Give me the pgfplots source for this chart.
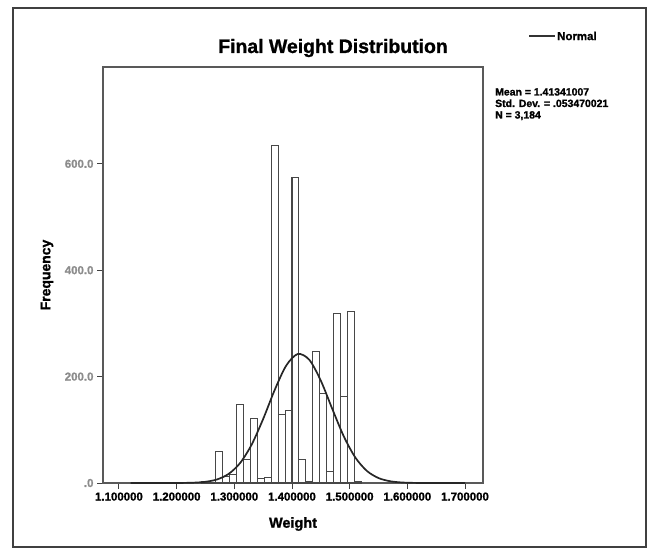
\documentclass[border=0pt]{standalone}
\usepackage{pgfplots}
\pgfplotsset{compat=1.18}
\usepackage{fontspec}
\setmainfont{Liberation Sans}[FakeBold=1.2]

% bin left edges (width 0.012) and counts; last row closes the final bin
\pgfplotstableread{
x      n
1.244  2
1.256  1
1.268  60
1.280  12
1.292  16
1.304  148
1.316  44
1.328  121
1.340  8
1.352  10
1.364  635
1.376  128
1.388  137
1.400  574
1.412  44
1.424  3
1.436  247
1.448  168
1.460  22
1.472  318
1.484  162
1.496  322
1.508  2
1.520  0
}\weights

\begin{document}
\begin{tikzpicture}[x=1bp,y=1bp]
\path[use as bounding box] (0,0) rectangle (652,-552);
\draw[black!75, line width=1.2bp] (13,-8) rectangle (646,-547);

\begin{axis}[
  at={(103bp,-483bp)}, anchor=south west,
  scale only axis, width=380bp, height=416bp,
  xmin=1.0723, xmax=1.7312, ymin=0, ymax=782,
  xtick={1.1,1.2,1.3,1.4,1.5,1.6,1.7},
  xticklabels={1.100000,1.200000,1.300000,1.400000,1.500000,1.600000,1.700000},
  ytick={0,200,400,600},
  yticklabels={.0,200.0,400.0,600.0},
  tick align=outside, xtick pos=bottom, ytick pos=left,
  major tick length=6bp,
  tick style={black!75, line width=1bp},
  xticklabel style={font=\fontsize{11.5}{12}\selectfont\bfseries},
  yticklabel style={font=\fontsize{11.5}{12}\selectfont\bfseries, text=black!45},
  axis line style={black!65, line width=1.3bp},
]
\addplot[ybar interval, fill=white, draw=black!72, line width=1.1bp]
  table[x=x, y=n] {\weights};
% fitted normal density scaled to counts (mean 1.4134, sd 0.0535)
\addplot[smooth, black!85, line width=1.7bp] coordinates {
(1.12,0) (1.15,0.00) (1.19,0.04) (1.21,0.18) (1.23,0.68) (1.25,2.29)
(1.27,6.69) (1.29,17.0) (1.31,37.5) (1.33,72.1) (1.35,120.4)
(1.37,174.9) (1.39,220.8) (1.41,242.5) (1.43,231.6) (1.45,192.3)
(1.47,138.9) (1.49,87.2) (1.51,47.6) (1.53,22.6) (1.55,9.33)
(1.57,3.35) (1.59,1.05) (1.61,0.28) (1.63,0.07) (1.67,0) (1.70,0)};
\end{axis}

\node[font=\fontsize{19.5}{21}\selectfont\bfseries] at (333,-48) {Final Weight Distribution};
\node[font=\fontsize{14.5}{15}\selectfont\bfseries] at (293,-524) {Weight};
\node[rotate=90, font=\fontsize{14}{15}\selectfont\bfseries] at (47,-275) {Frequency};

\draw[black!80, line width=1.6bp] (529,-36) -- (555,-36);
\node[anchor=west, inner sep=1bp, font=\fontsize{11.5}{12}\selectfont\bfseries] at (556,-36) {Normal};

\begin{scope}[every node/.style={anchor=base west, inner sep=0pt, font=\fontsize{10.5}{11}\selectfont\bfseries}]
\node at (495,-95.5) {Mean = 1.41341007};
\node at (495,-107) {Std. Dev. = .053470021};
\node at (495,-118.5) {N = 3,184};
\end{scope}
\end{tikzpicture}
\end{document}
